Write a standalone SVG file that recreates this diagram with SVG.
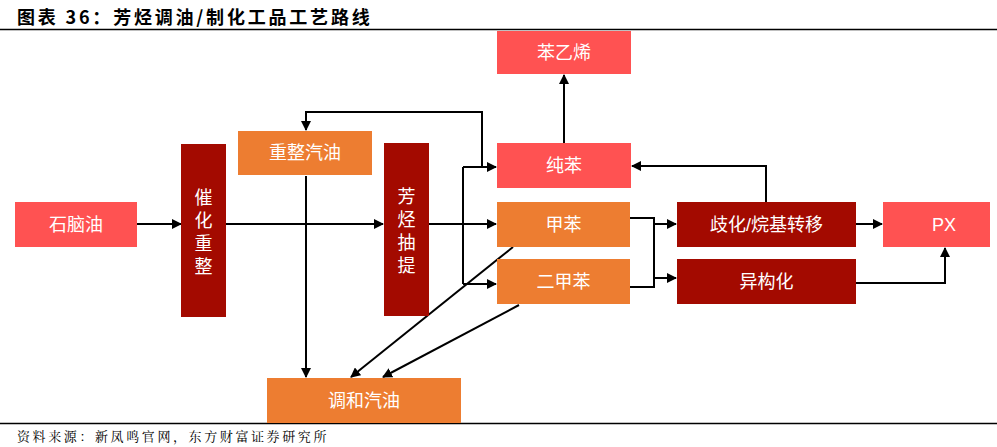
<svg xmlns="http://www.w3.org/2000/svg" width="997" height="447" viewBox="0 0 997 447">
<style>
.t{font-family:"Liberation Sans","Noto Sans CJK SC",sans-serif;font-size:18px;fill:#fff;text-anchor:middle;dominant-baseline:central}
.red{fill:#FF5252}
.org{fill:#ED7D31}
.dk{fill:#A30A00}
.c{fill:none;stroke:#000;stroke-width:2}
.a{marker-end:url(#ah)}
</style>
<defs>
<marker id="ah" viewBox="0 0 10 10" refX="9" refY="5" markerWidth="5" markerHeight="5" orient="auto" markerUnits="strokeWidth">
<path d="M0,0 L10,5 L0,10 z" fill="#000"/>
</marker>
</defs>
<rect width="997" height="447" fill="#fff"/>
<text x="17" y="24" style="font-family:'Noto Sans CJK SC',sans-serif;font-size:18px;font-weight:bold;fill:#000;letter-spacing:2.8px">图表 36：芳烃调油/制化工品工艺路线</text>
<line x1="0" y1="29.5" x2="997" y2="29.5" stroke="#000" stroke-width="1.5"/>
<line x1="0" y1="423.5" x2="997" y2="423.5" stroke="#000" stroke-width="1.5"/>
<text x="17" y="441" style="font-family:'Noto Serif CJK SC','Noto Sans CJK SC',serif;font-size:13px;fill:#000;letter-spacing:2.6px">资料来源：新凤鸣官网，东方财富证券研究所</text>

<g id="connectors">
<path class="c a" d="M137,224 H181"/>
<path class="c a" d="M226,224 H383"/>
<path class="c a" d="M306,176 V377"/>
<path class="c a" d="M482,167 V112 H306 V130"/>
<path class="c a" d="M429,224 H496"/>
<path class="c" d="M463,284 V167"/>
<path class="c a" d="M463,167 H496"/>
<path class="c a" d="M463,284 H496"/>
<path class="c a" d="M513,247 L351,377"/>
<path class="c a" d="M519,305 L383,377"/>
<path class="c a" d="M564,143 V75"/>
<path class="c" d="M630,218 H654 V287 H630"/>
<path class="c a" d="M654,224 H676"/>
<path class="c a" d="M654,278 H676"/>
<path class="c a" d="M856,224 H882"/>
<path class="c a" d="M856,283 H945 V248"/>
<path class="c a" d="M766,202 V166 H632"/>
</g>

<g id="naphtha"><rect class="red" x="15" y="202" width="122" height="45"/><text class="t" x="76" y="224.5">石脑油</text></g>
<g id="reforming"><rect class="dk" x="181" y="144" width="45" height="173"/>
<text class="t" x="203.5" y="198">催</text><text class="t" x="203.5" y="221">化</text><text class="t" x="203.5" y="244">重</text><text class="t" x="203.5" y="267">整</text></g>
<g id="reformate"><rect class="org" x="238" y="131" width="134" height="44"/><text class="t" x="305" y="153">重整汽油</text></g>
<g id="extraction"><rect class="dk" x="384" y="143" width="45" height="173"/>
<text class="t" x="406.5" y="197">芳</text><text class="t" x="406.5" y="220">烃</text><text class="t" x="406.5" y="243">抽</text><text class="t" x="406.5" y="266">提</text></g>
<g id="styrene"><rect class="red" x="497" y="31" width="134" height="43"/><text class="t" x="564" y="52.5">苯乙烯</text></g>
<g id="benzene"><rect class="red" x="497" y="143" width="134" height="45"/><text class="t" x="564" y="165.5">纯苯</text></g>
<g id="toluene"><rect class="org" x="497" y="202" width="133" height="45"/><text class="t" x="563.5" y="224.5">甲苯</text></g>
<g id="xylene"><rect class="org" x="497" y="259" width="133" height="45"/><text class="t" x="563.5" y="281.5">二甲苯</text></g>
<g id="disproportionation"><rect class="dk" x="677" y="202" width="179" height="45"/><text class="t" x="766.5" y="224.5">歧化/烷基转移</text></g>
<g id="isomerization"><rect class="dk" x="677" y="259" width="179" height="45"/><text class="t" x="766.5" y="281.5">异构化</text></g>
<g id="px"><rect class="red" x="883" y="202" width="107" height="45"/><text class="t" x="944" y="224.5">PX</text></g>
<g id="blended"><rect class="org" x="267" y="378" width="194" height="45"/><text class="t" x="364" y="400.5">调和汽油</text></g>
</svg>
